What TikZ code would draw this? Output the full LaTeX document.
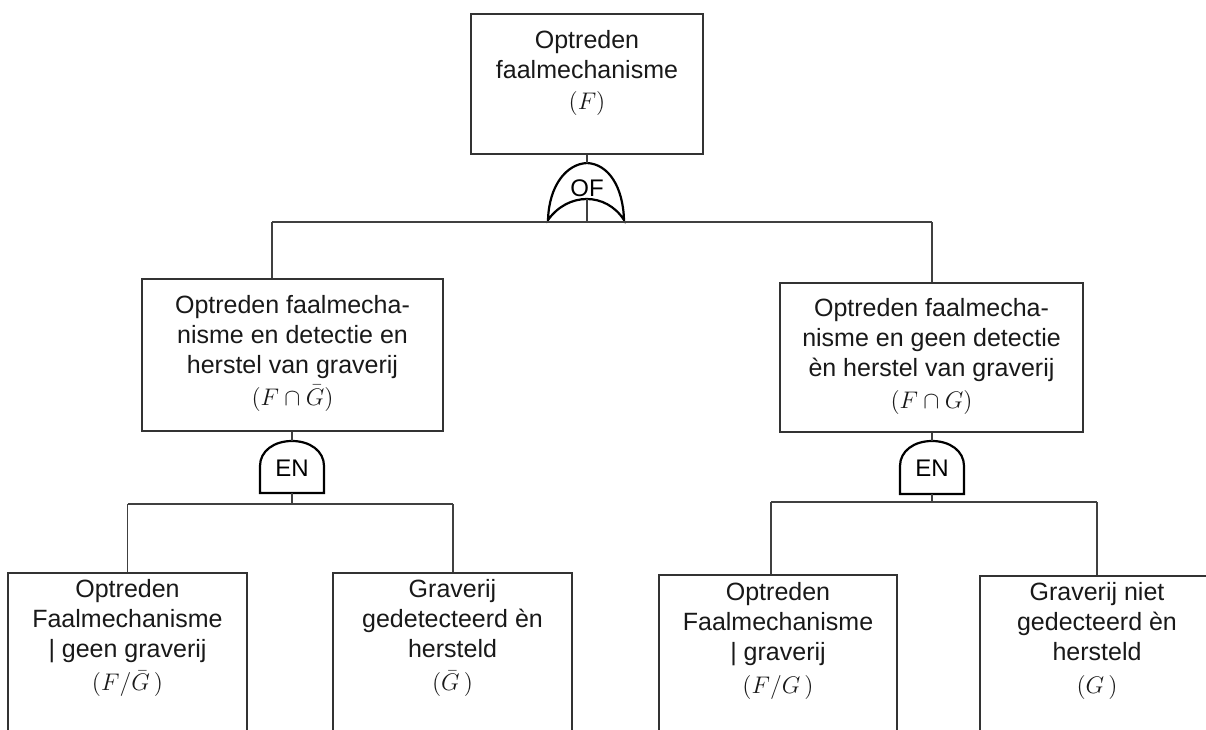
\documentclass[tikz,border=0pt]{standalone}
\usepackage{fontspec}
\setmainfont{Liberation Sans}
\begin{document}
\begin{tikzpicture}[x=0.5pt,y=-0.5pt,
  box/.style={draw=black!80, line width=0.55pt, inner sep=0pt, rectangle},
  txt/.style={align=center, font=\fontsize{12.5}{15}\selectfont, inner sep=0pt, text=black!90},
  gatelbl/.style={font=\fontsize{12}{14}\selectfont, inner sep=0pt},
  gateshape/.style={draw=black, line width=1.1pt, fill=white},
  wire/.style={draw=black!75, line width=0.55pt}]
\clip (0,0) rectangle (1206,729);
\fill[white] (0,0) rectangle (1206,729);

% boxes
\node[box, minimum width=116pt, minimum height=70pt] (top) at (587,84) {};
\node[box, minimum width=150.5pt, minimum height=76pt] (midL) at (292.5,355) {};
\node[box, minimum width=151.5pt, minimum height=74.5pt] (midR) at (931.5,357.5) {};
\node[box, minimum width=119.5pt, minimum height=114pt] (b1) at (127.5,687) {};
\node[box, minimum width=119.5pt, minimum height=114pt] (b2) at (452.5,687) {};
\node[box, minimum width=119pt, minimum height=114pt] (b3) at (778,689) {};
\node[box, minimum width=119.5pt, minimum height=114pt] (b4) at (1099.5,690) {};

% texts
\node[txt] (tTop) at (587,73) {Optreden\\faalmechanisme\\[0.5pt]$(F)$};
\node[txt] (tMidL) at (292.5,353) {Optreden faalmecha-\\nisme en detectie en\\herstel van graverij\\[1pt]$(F\cap\bar{G})$};
\node[txt] (tMidR) at (931.5,356) {Optreden faalmecha-\\nisme en geen detectie\\èn herstel van graverij\\[1pt]$(F\cap G)$};
\node[txt] (tB1) at (127.5,638) {Optreden\\Faalmechanisme\\| geen graverij\\[1.5pt]$(F/\bar{G}\,)$};
\node[txt] (tB2) at (452.5,638) {Graverij\\gedetecteerd èn\\hersteld\\[1.5pt]$(\bar{G}\,)$};
\node[txt] (tB3) at (778,641) {Optreden\\Faalmechanisme\\| graverij\\[1.5pt]$(F/G\,)$};
\node[txt] (tB4) at (1097,641) {Graverij niet\\gedecteerd èn\\hersteld\\[1.5pt]$(G\,)$};

% OF gate
\coordinate (ofTop) at (587,163);
\coordinate (ofBot) at (587,199);
\path[gateshape] (548,220) .. controls (549,186) and (566,164) .. (ofTop)
  .. controls (608,164) and (623,186) .. (624,220)
  .. controls (606,192) and (568,192) .. cycle;
\node[gatelbl] (ofLbl) at (587,188) {OF};

% EN gates
\coordinate (enLTop) at (292,441);
\coordinate (enLBot) at (292,493);
\path[gateshape] (260,493) -- (260,466) .. controls (260,451) and (274,441) .. (enLTop)
  .. controls (310,441) and (324,451) .. (324,466) -- (324,493) -- cycle;
\node[gatelbl] (enLLbl) at (292,468) {EN};

\coordinate (enRTop) at (932,441);
\coordinate (enRBot) at (932,494);
\path[gateshape] (900,494) -- (900,466) .. controls (900,451) and (914,441) .. (enRTop)
  .. controls (950,441) and (964,451) .. (964,466) -- (964,494) -- cycle;
\node[gatelbl] (enRLbl) at (932,468) {EN};

% top level wiring
\coordinate (bus0M) at (587,222);
\coordinate (bus0L) at (272,222);
\coordinate (bus0R) at (932,222);
\draw[wire] (top.south) -- (ofTop);
\draw[wire] (ofBot) -- (bus0M);
\draw[wire] (bus0L) -- (bus0R);
\draw[wire] (bus0L) -- (bus0L |- midL.north);
\draw[wire] (bus0R) -- (bus0R |- midR.north);

% left EN wiring
\coordinate (bus1M) at (292,504);
\coordinate (bus1L) at (127.5,504);
\coordinate (bus1R) at (453,504);
\draw[wire] (midL.south -| enLTop) -- (enLTop);
\draw[wire] (enLBot) -- (bus1M);
\draw[wire] (bus1L) -- (bus1R);
\draw[wire] (bus1L) -- (b1.north);
\draw[wire] (bus1R) -- (bus1R |- b2.north);

% right EN wiring
\coordinate (bus2M) at (932,502);
\coordinate (bus2L) at (771,502);
\coordinate (bus2R) at (1097,502);
\draw[wire] (midR.south -| enRTop) -- (enRTop);
\draw[wire] (enRBot) -- (bus2M);
\draw[wire] (bus2L) -- (bus2R);
\draw[wire] (bus2L) -- (bus2L |- b3.north);
\draw[wire] (bus2R) -- (bus2R |- b4.north);
\end{tikzpicture}
\end{document}
